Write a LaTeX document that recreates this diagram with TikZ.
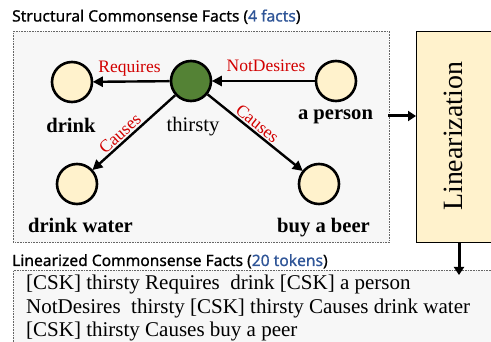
\documentclass[tikz,border=0pt]{standalone}
\usepackage{fontspec}
\setmainfont{Liberation Serif}
\newfontfamily\headfont[FakeBold=0.8]{Noto Sans}
\usetikzlibrary{arrows.meta}
\definecolor{cskred}{RGB}{210,0,0}
\definecolor{cskblue}{RGB}{47,85,151}
\definecolor{nodefill}{RGB}{255,242,204}
\definecolor{thirstgreen}{RGB}{84,130,53}
\definecolor{panelgray}{RGB}{247,247,247}
\begin{document}
\begin{tikzpicture}[x=1pt,y=-1pt,
  concept/.style={circle, draw=black, line width=2.6pt, fill=nodefill, minimum size=40pt, inner sep=0pt},
  rel/.style={-{Triangle[length=10pt,width=10pt]}, line width=2.4pt, shorten >=-0.5pt},
  rellabel/.style={font=\fontsize{17.5}{19}\selectfont, text=cskred, inner sep=1.5pt},
  conceptlabel/.style={font=\fontsize{20.6}{22}\selectfont\bfseries, inner sep=0pt, anchor=base},
  panel/.style={draw=black!60, densely dotted, fill=panelgray, line width=0.6pt, inner sep=0pt},
  heading/.style={font=\headfont\fontsize{15.6}{18}\selectfont, anchor=base west, inner sep=0pt},
  flow/.style={-{Triangle[length=8pt,width=10pt]}, line width=3pt},
  csktext/.style={font=\fontsize{21}{23.5}\selectfont, anchor=base west, inner sep=0pt}
]
\useasboundingbox (0,0) rectangle (491,342);
\clip (0,0) rectangle (491,342);

% headings
\node[heading] (h1) at (12,21.5) {Structural Commonsense Facts (\textcolor{cskblue}{4 facts})};
\node[heading] (h2) at (12,266) {Linearized Commonsense Facts (\textcolor{cskblue}{20 tokens})};

% panels
\node[panel, anchor=north west, minimum width=376pt, minimum height=211pt] (p1) at (13,31) {};
\node[panel, anchor=north west, minimum width=500pt, minimum height=100pt] (p2) at (13,270) {};

% linearization box
\node[draw=black, line width=0.8pt, fill=nodefill, anchor=north west, minimum width=100pt, minimum height=211pt, inner sep=0pt] (lin) at (416,31) {};
\node[rotate=90, anchor=base west, font=\fontsize{27.9}{30}\selectfont, inner sep=0pt] (lintext) at (462,211) {Linearization};

% concept nodes
\node[concept] (drink) at (72,82) {};
\node[concept, fill=thirstgreen] (thirsty) at (191,81) {};
\node[concept] (person) at (336,81) {};
\node[concept] (water) at (77,184) {};
\node[concept] (beer) at (319,184) {};

% concept labels
\node[conceptlabel] (ldrink) at (71,133) {drink};
\node[font=\fontsize{20.6}{22}\selectfont, inner sep=0pt, anchor=base] (lthirsty) at (193,132) {thirsty};
\node[conceptlabel] (lperson) at (335.5,120) {a person};
\node[conceptlabel] (lwater) at (80.5,233) {drink water};
\node[conceptlabel] (lbeer) at (323.5,233) {buy a beer};

% relations
\draw[rel] (thirsty) -- node[rellabel, anchor=base, yshift=9pt, xshift=-2pt] (rreq) {Requires} (drink);
\draw[rel] (person) -- node[rellabel, anchor=base, yshift=9pt, xshift=2.5pt] (rnot) {NotDesires} (thirsty);
\draw[rel] (thirsty) -- node[rellabel, sloped, above, pos=0.6] (rc1) {Causes} (water);
\draw[rel] (thirsty) -- node[rellabel, sloped, above, pos=0.47] (rc2) {Causes} (beer);

% flow arrows
\coordinate (a1) at (388,116);
\draw[flow] (a1) -- (lin.west |- a1);
\coordinate (a2) at (459,275);
\draw[flow] (lin.south -| a2) -- (a2);

% linearized text
\node[csktext] (t1) at (26,290) {[CSK] thirsty Requires\ \ drink [CSK] a person};
\node[csktext] (t2) at (26,313.5) {NotDesires\ \ thirsty [CSK] thirsty Causes drink water};
\node[csktext] (t3) at (26,337) {[CSK] thirsty Causes buy a peer};
\end{tikzpicture}
\end{document}
